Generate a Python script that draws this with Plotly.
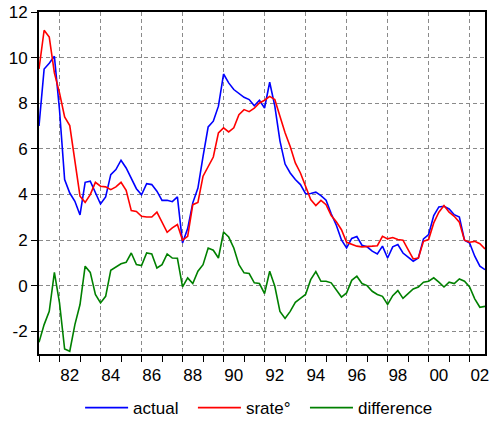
import plotly.graph_objects as go

start_year = 1981
n_quarters = 88

actual = [7.0, 9.5, 9.75, 10.06, 7.7, 4.65, 4.06, 3.7, 3.1, 4.53, 4.58, 4.1,
          3.58, 3.89, 4.87, 5.09, 5.5, 5.16, 4.72, 4.25, 3.98, 4.47, 4.43, 4.14,
          3.74, 3.74, 3.68, 3.89, 1.87, 2.5, 3.63, 4.28, 5.67, 6.96, 7.21, 7.87,
          9.28, 8.89, 8.6, 8.42, 8.26, 8.16, 7.89, 8.13, 7.79, 8.92, 7.87, 6.35,
          5.33, 4.94, 4.65, 4.43, 4.03, 4.04, 4.1, 3.95, 3.75, 3.15, 2.65, 2.0,
          1.65, 2.07, 2.15, 1.77, 1.7, 1.51, 1.39, 1.73, 1.21, 1.7, 1.8, 1.43,
          1.26, 1.07, 1.21, 2.05, 2.24, 3.07, 3.45, 3.48, 3.36, 3.11, 3.01, 1.99,
          1.87, 1.29, 0.85, 0.7]

srate = [9.5, 11.2, 10.9, 9.33, 8.45, 7.4, 7.02, 5.45, 3.92, 3.65, 3.99, 4.53,
         4.36, 4.33, 4.21, 4.33, 4.53, 4.18, 3.29, 3.25, 3.04, 3.01, 3.01, 3.22,
         2.75, 2.34, 2.53, 2.68, 1.99, 2.16, 3.55, 3.65, 4.8, 5.23, 5.64, 6.7,
         6.92, 6.74, 6.92, 7.5, 7.72, 7.63, 7.78, 8.01, 8.13, 8.3, 8.16, 7.43,
         6.7, 6.1, 5.38, 4.94, 4.36, 3.77, 3.51, 3.74, 3.55, 3.07, 2.8, 2.45,
         1.9, 1.8, 1.73, 1.7, 1.73, 1.73, 1.75, 2.16, 2.05, 2.11, 2.02, 1.99,
         1.58, 1.17, 1.21, 1.94, 2.02, 2.75, 3.22, 3.51, 3.22, 3.04, 2.78, 1.99,
         1.9, 1.94, 1.84, 1.61]

difference = [-2.49, -1.71, -1.13, 0.58, -0.76, -2.78, -2.88, -1.71, -0.83, 0.85, 0.58, -0.39,
              -0.76, -0.47, 0.67, 0.82, 0.96, 1.02, 1.43, 0.92, 0.88, 1.43, 1.39, 0.77,
              0.92, 1.39, 1.21, 1.2, -0.06, 0.34, 0.09, 0.63, 0.92, 1.65, 1.55, 1.21,
              2.35, 2.13, 1.65, 0.92, 0.56, 0.53, 0.12, 0.09, -0.35, 0.63, -0.03, -1.13,
              -1.44, -1.13, -0.73, -0.56, -0.39, 0.26, 0.61, 0.19, 0.19, 0.12, -0.2, -0.5,
              -0.32, 0.23, 0.41, 0.09, 0.0, -0.25, -0.39, -0.47, -0.83, -0.44, -0.22, -0.56,
              -0.35, -0.15, -0.06, 0.15, 0.19, 0.34, 0.15, -0.06, 0.15, 0.09, 0.29, 0.19,
              -0.06, -0.58, -0.95, -0.91]

series_names = ["actual", "srate\u00b0", "difference"]
series_colors = ["#0000FF", "#FF0000", "#008000"]

label_years = list(range(1982, 2003, 2))
x_tick_labels = [str(y)[-2:] for y in label_years]
y_tick_vals = [-2, 0, 2, 4, 6, 8, 10, 12]
y_tick_text = ["-2", "0", "2", "4", "6", "8", "10", "12"]

x = [start_year + i / 4 for i in range(n_quarters)]

FONT = "Liberation Sans, Arial, sans-serif"
PAD = "\u00a0\u00a0"

fig = go.Figure()
for k, (vals, name, col) in enumerate(zip([actual, srate, difference], series_names, series_colors)):
    label = name + (PAD if k < 2 else "")
    fig.add_trace(go.Scatter(x=x, y=vals, mode="lines", name=label,
                             line=dict(color=col, width=1.6)))
# helper trace for the label axis
fig.add_trace(go.Scatter(x=[x[0]], y=[None], xaxis="x2", showlegend=False,
                         hoverinfo="skip", mode="lines"))

xr = [x[0], x[-1]]
grid = dict(gridcolor="#8a8a8a", gridwidth=1, griddash="4px,3px")

fig.update_layout(
    width=491, height=421,
    margin=dict(l=39, r=6, t=12, b=67, autoexpand=False),
    paper_bgcolor="white", plot_bgcolor="white",
    font=dict(family=FONT, size=17, color="black"),
    showlegend=True,
    legend=dict(orientation="h", x=0.4935, xanchor="center", y=-0.158, yanchor="middle",
                font=dict(family=FONT, size=17, color="black"),
                itemwidth=43, bgcolor="rgba(0,0,0,0)"),
    xaxis=dict(range=xr, tickmode="array", tickvals=label_years, showticklabels=False,
               ticks="outside", ticklen=6, tickwidth=1.2, tickcolor="black",
               showgrid=True, **grid, zeroline=False,
               showline=True, linecolor="black", linewidth=2, mirror=True,
               minor=dict(tickmode="array", tickvals=list(range(1981, 2003)),
                          ticks="outside", ticklen=6, tickwidth=1.2, tickcolor="black",
                          showgrid=False)),
    xaxis2=dict(range=xr, overlaying="x", anchor="y", side="bottom",
                tickmode="array", tickvals=[y + 0.5 for y in label_years],
                ticktext=x_tick_labels, ticks="outside", ticklen=6,
                tickcolor="rgba(0,0,0,0)", showgrid=False, zeroline=False,
                showline=False, tickfont=dict(family=FONT, size=17, color="black")),
    yaxis=dict(range=[-3, 12], tickmode="array", tickvals=y_tick_vals, ticktext=y_tick_text,
               ticks="outside", ticklen=6, tickwidth=1.2, tickcolor="black",
               showgrid=True, **grid, zeroline=False,
               showline=True, linecolor="black", linewidth=2, mirror=True,
               tickfont=dict(family=FONT, size=17, color="black")),
)

fig.write_html("out.html")
